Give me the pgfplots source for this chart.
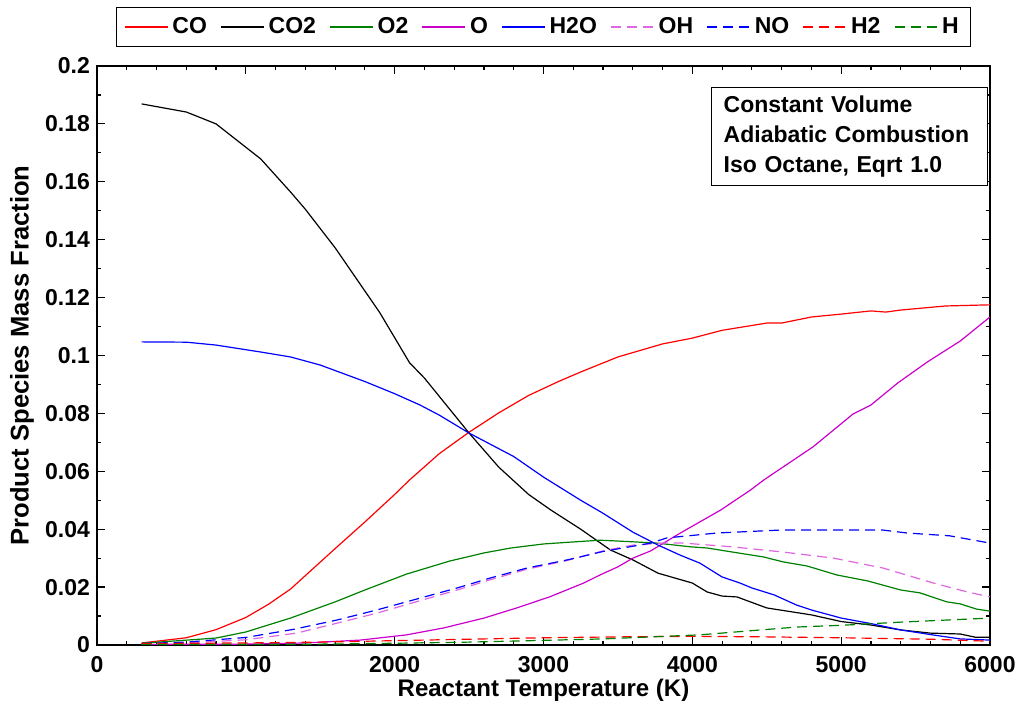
\documentclass[border=0pt]{standalone}
\usepackage{pgfplots}
\pgfplotsset{compat=1.18}
\usepackage{fontspec}
\setmainfont{Liberation Sans}

\definecolor{mred}{RGB}{255,0,0}
\definecolor{mgreen}{RGB}{0,128,0}
\definecolor{mmag}{RGB}{204,0,204}
\definecolor{mblue}{RGB}{0,0,255}

\begin{document}
\begin{tikzpicture}
\begin{axis}[
    name=ax,
    width=446.5pt, height=289.5pt, scale only axis,
    xmin=0, xmax=6000, ymin=0, ymax=0.2,
    xtick={0,1000,2000,3000,4000,5000,6000},
    ytick={0,0.02,0.04,0.06,0.08,0.1,0.12,0.14,0.16,0.18,0.2},
    minor x tick num=4, minor y tick num=1,
    tick align=inside, major tick length=4pt, minor tick length=2pt,
    every tick/.style={black, line width=0.6pt},
    axis line style={line width=1pt},
    scaled x ticks=false, scaled y ticks=false,
    /pgf/number format/assume math mode=true,
    ticklabel style={font=\bfseries\fontsize{11.5}{13}\selectfont},
    xticklabel style={/pgf/number format/1000 sep={}, yshift=-2pt},
    yticklabel style={/pgf/number format/fixed, /pgf/number format/precision=2},
    xlabel={Reactant Temperature (K)},
    ylabel={Product Species Mass Fraction},
    xlabel style={font=\bfseries\fontsize{12}{14}\selectfont,
        at={(axis description cs:0.5,-0.078)}, anchor=center},
    ylabel style={font=\bfseries\fontsize{12.8}{14}\selectfont,
        at={(axis description cs:-0.084,0.5)}, anchor=center},
    no markers,
    every axis plot/.append style={line width=0.6pt},
    legend columns=9,
    legend style={at={(0.5,1)}, anchor=south, yshift=9.5pt, draw=black,
        line width=0.5pt, inner xsep=4pt, inner ysep=3pt,
        font=\bfseries\fontsize{11.5}{13}\selectfont,
        /tikz/every even column/.append style={column sep=4.75pt}},
    legend image code/.code={\draw[#1] (0pt,0pt) -- (21.5pt,0pt);},
]
% CO
\addplot[mred] coordinates {(300,0.0007)(600,0.0025)(800,0.0053)(1000,0.0095)(1150,0.014)(1300,0.0193)(1600,0.0333)(1800,0.0425)(2000,0.052)(2100,0.057)(2300,0.0661)(2500,0.0735)(2700,0.0802)(2900,0.0862)(3100,0.091)(3250,0.0943)(3500,0.0995)(3800,0.104)(4000,0.106)(4200,0.1087)(4500,0.1112)(4600,0.1112)(4800,0.1133)(5000,0.1143)(5200,0.1154)(5300,0.1150)(5400,0.1157)(5700,0.1171)(6000,0.1175)};
% CO2
\addplot[black] coordinates {(300,0.1869)(600,0.1841)(800,0.180)(1100,0.1679)(1300,0.1565)(1400,0.1505)(1600,0.1372)(1750,0.126)(1900,0.1148)(2100,0.0975)(2200,0.0922)(2500,0.0732)(2700,0.0614)(2900,0.052)(3050,0.0466)(3250,0.040)(3450,0.0328)(3600,0.0294)(3770,0.0248)(4000,0.0214)(4100,0.0183)(4200,0.0169)(4300,0.0166)(4500,0.0128)(4800,0.0104)(5000,0.0081)(5200,0.0069)(5400,0.0052)(5600,0.0041)(5800,0.0038)(5900,0.0027)(6000,0.0027)};
% O2
\addplot[mgreen] coordinates {(300,0.0006)(800,0.0024)(1000,0.0045)(1300,0.0093)(1600,0.0149)(1800,0.019)(2080,0.0245)(2370,0.029)(2600,0.0318)(2780,0.0335)(3000,0.0349)(3200,0.0356)(3380,0.0362)(3580,0.0357)(3760,0.0352)(3990,0.0339)(4100,0.0335)(4270,0.0321)(4480,0.0304)(4610,0.0287)(4770,0.0273)(4970,0.0242)(5180,0.0221)(5400,0.019)(5530,0.018)(5710,0.0149)(5800,0.0142)(5910,0.0124)(6000,0.0117)};
% O
\addplot[mmag] coordinates {(300,0.0002)(1000,0.0003)(1400,0.0007)(1770,0.0017)(2080,0.0035)(2330,0.0059)(2600,0.0093)(2820,0.0128)(3040,0.0166)(3270,0.0214)(3380,0.0242)(3500,0.027)(3600,0.030)(3720,0.0325)(3920,0.0387)(4190,0.0466)(4390,0.0535)(4480,0.057)(4810,0.0684)(5080,0.0798)(5200,0.0829)(5380,0.0905)(5580,0.0978)(5800,0.1050)(6000,0.1133)};
% H2O
\addplot[mblue] coordinates {(300,0.1047)(600,0.1046)(800,0.1036)(1100,0.1012)(1300,0.0995)(1500,0.0967)(1800,0.091)(2000,0.0868)(2170,0.0829)(2300,0.0794)(2500,0.0732)(2800,0.0651)(3000,0.058)(3250,0.050)(3400,0.0455)(3600,0.039)(3770,0.0345)(3920,0.031)(4050,0.0283)(4200,0.0235)(4320,0.0214)(4400,0.0197)(4550,0.0173)(4700,0.0138)(4800,0.0121)(5000,0.0093)(5200,0.0074)(5400,0.0052)(5600,0.0036)(5800,0.0021)(6000,0.0017)};
% OH
\addplot[mmag!60, dash pattern=on 5pt off 3pt] coordinates {(300,0.0003)(600,0.0007)(1000,0.0018)(1340,0.0041)(1610,0.0075)(1880,0.011)(2150,0.015)(2420,0.019)(2640,0.0225)(2890,0.0262)(3160,0.0292)(3400,0.0325)(3600,0.0345)(3800,0.0352)(3940,0.0352)(4270,0.0339)(4610,0.0321)(4950,0.030)(5280,0.0266)(5620,0.0214)(5850,0.0183)(6000,0.0166)};
% NO
\addplot[mblue, dash pattern=on 5pt off 3pt] coordinates {(300,0.0005)(600,0.001)(1000,0.0026)(1320,0.0054)(1610,0.0086)(1880,0.0121)(2150,0.0159)(2420,0.0197)(2640,0.0231)(2890,0.0266)(3160,0.0294)(3400,0.0323)(3720,0.0352)(3830,0.037)(4170,0.0387)(4590,0.0397)(5280,0.0397)(5440,0.0387)(5730,0.0377)(6000,0.0352)};
% H2
\addplot[mred, dash pattern=on 5pt off 3pt] coordinates {(300,0.0005)(1000,0.0007)(1500,0.001)(2000,0.0015)(2500,0.002)(3000,0.0025)(3500,0.0028)(4000,0.003)(4500,0.0028)(5000,0.0025)(5600,0.002)(6000,0.0013)};
% H
\addplot[mgreen, dash pattern=on 5pt off 3pt] coordinates {(300,0.0002)(1000,0.0002)(1500,0.0003)(2000,0.0006)(2500,0.001)(3000,0.0016)(3400,0.0021)(4050,0.0035)(4700,0.0062)(5000,0.0068)(5400,0.0079)(6000,0.0093)};
\legend{CO,CO2,O2,O,H2O,OH,NO,H2,H}
\node[draw, line width=0.5pt, fill=white, anchor=north east, align=left,
    text width=126pt, inner xsep=6pt, inner ysep=4pt,
    font=\bfseries\fontsize{11.5}{15}\selectfont]
    at (rel axis cs:0.998,0.963) {Constant Volume\\Adiabatic Combustion\\Iso Octane, Eqrt 1.0};
\end{axis}
\pgfresetboundingbox
\path ([shift={(-48.5pt,-30pt)}]ax.south west) rectangle ([shift={(15.5pt,33pt)}]ax.north east);
\end{tikzpicture}
\end{document}
